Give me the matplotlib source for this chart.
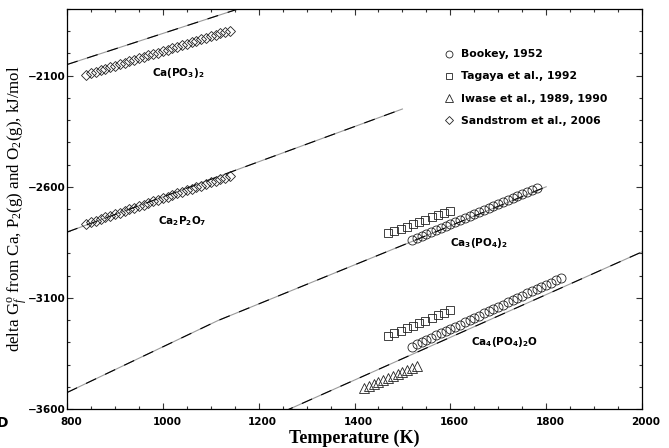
import matplotlib
matplotlib.use("Agg")
import matplotlib.pyplot as plt
from matplotlib.lines import Line2D
from matplotlib.ticker import MultipleLocator
import matplotlib.transforms as mtransforms

plt.rcParams['mathtext.fontset'] = 'custom'
plt.rcParams['mathtext.rm'] = 'Liberation Serif'
plt.rcParams['mathtext.it'] = 'Liberation Serif:italic'
plt.rcParams['mathtext.bf'] = 'DejaVu Sans:bold'

# ---- calculated lines (kJ/mol vs K) ----
calc1_T = [800, 1200]
calc1_G = [-2050, -1770]
calc2_T = [800, 1500]
calc2_G = [-2804, -2250]
calc3_T = [800, 1115, 1800]
calc3_G = [-3526, -3202, -2600]
calc4_T = [1250, 2000]
calc4_G = [-3614, -2893]

# ---- Sandstrom et al., 2006 (diamonds) ----
sand1_T = [840, 850, 860, 870, 880, 890, 900, 910, 920, 930, 940, 950, 960, 970, 980, 990,
           1000, 1010, 1020, 1030, 1040, 1050, 1060, 1070, 1080, 1090, 1100, 1110, 1120, 1130, 1140]
sand1_G = [-2095, -2088, -2082, -2075, -2069, -2062, -2055, -2049, -2042, -2036, -2029, -2022,
           -2016, -2009, -2003, -1996, -1989, -1983, -1976, -1970, -1963, -1956, -1950, -1943,
           -1937, -1930, -1923, -1917, -1910, -1904, -1897]
sand2_T = [840, 850, 860, 870, 880, 890, 900, 910, 920, 930, 940, 950, 960, 970, 980, 990,
           1000, 1010, 1020, 1030, 1040, 1050, 1060, 1070, 1080, 1090, 1100, 1110, 1120, 1130, 1140]
sand2_G = [-2766, -2759, -2752, -2745, -2737, -2730, -2723, -2716, -2709, -2702, -2695, -2688,
           -2680, -2673, -2666, -2659, -2652, -2645, -2638, -2630, -2623, -2616, -2609, -2602,
           -2595, -2588, -2580, -2573, -2566, -2559, -2552]

# ---- Bookey, 1952 (circles) ----
book3_T = [1520, 1530, 1540, 1550, 1560, 1570, 1580, 1590, 1600, 1610, 1620, 1630, 1640, 1650,
           1660, 1670, 1680, 1690, 1700, 1710, 1720, 1730, 1740, 1750, 1760, 1770, 1780]
book3_G = [-2839, -2830, -2821, -2812, -2803, -2794, -2785, -2776, -2767, -2758, -2749, -2740,
           -2731, -2722, -2713, -2704, -2695, -2686, -2677, -2668, -2660, -2651, -2642, -2633,
           -2624, -2615, -2606]
book4_T = [1520, 1530, 1540, 1550, 1560, 1570, 1580, 1590, 1600, 1610, 1620, 1630, 1640, 1650,
           1660, 1670, 1680, 1690, 1700, 1710, 1720, 1730, 1740, 1750, 1760, 1770, 1780, 1790,
           1800, 1810, 1820, 1830]
book4_G = [-3319, -3309, -3299, -3289, -3279, -3269, -3259, -3249, -3240, -3230, -3220, -3210,
           -3200, -3190, -3180, -3170, -3160, -3150, -3140, -3130, -3120, -3110, -3100, -3090,
           -3080, -3071, -3061, -3051, -3041, -3031, -3021, -3011]

# ---- Tagaya et al., 1992 (squares) ----
tag3_T = [1470, 1483, 1496, 1509, 1522, 1535, 1548, 1561, 1574, 1587, 1600]
tag3_G = [-2809, -2799, -2789, -2779, -2768, -2758, -2748, -2738, -2727, -2717, -2707]
tag4_T = [1470, 1483, 1496, 1509, 1522, 1535, 1548, 1561, 1574, 1587, 1600]
tag4_G = [-3271, -3260, -3248, -3237, -3225, -3214, -3202, -3191, -3179, -3168, -3156]

# ---- Iwase et al., 1989, 1990 (triangles) ----
iwa_T = [1420, 1430, 1440, 1450, 1460, 1470, 1480, 1490, 1500, 1510, 1520, 1530]
iwa_G = [-3507, -3498, -3489, -3480, -3471, -3462, -3453, -3444, -3435, -3426, -3417, -3408]

# ---- labels ----
species_labels = [r"Ca(PO$_{\mathbf{3}}$)$_{\mathbf{2}}$", r"Ca$_{\mathbf{2}}$P$_{\mathbf{2}}$O$_{\mathbf{7}}$",
                  r"Ca$_{\mathbf{3}}$(PO$_{\mathbf{4}}$)$_{\mathbf{2}}$", r"Ca$_{\mathbf{4}}$(PO$_{\mathbf{4}}$)$_{\mathbf{2}}$O"]
species_T = [1032, 1040, 1660, 1712]
species_G = [-2086, -2753, -2852, -3298]
legend_labels = ["Bookey, 1952", "Tagaya et al., 1992", "Iwase et al., 1989, 1990", "Sandstrom et al., 2006"]
xticks = [800, 1000, 1200, 1400, 1600, 1800, 2000]
yticks = [-3600, -3100, -2600, -2100]

fig = plt.figure(figsize=(6.69, 4.48), dpi=100)
W, H = 669, 448
ax = fig.add_axes([67 / W, 1 - 409 / H, 575 / W, 400 / H])

for T, G in [(calc1_T, calc1_G), (calc2_T, calc2_G), (calc3_T, calc3_G), (calc4_T, calc4_G)]:
    ax.plot(T, G, color='#9a9a9a', lw=0.8, zorder=2)
    ax.plot(T, G, color='black', lw=0.8, dashes=(10, 9), zorder=2)

mk = dict(linestyle='none', markerfacecolor='none', markeredgecolor='#222222', markeredgewidth=0.6, zorder=3)
ax.plot(sand1_T, sand1_G, marker='D', markersize=5.6, **mk)
ax.plot(sand2_T, sand2_G, marker='D', markersize=5.6, **mk)
ax.plot(book3_T, book3_G, marker='o', markersize=6.5, **mk)
ax.plot(book4_T, book4_G, marker='o', markersize=6.5, **mk)
ax.plot(tag3_T, tag3_G, marker='s', markersize=5.8, **mk)
ax.plot(tag4_T, tag4_G, marker='s', markersize=5.8, **mk)
ax.plot(iwa_T, iwa_G, marker='^', markersize=7.0, **mk)

for lab, T, G in zip(species_labels, species_T, species_G):
    ax.text(T, G, lab, ha='center', va='center', fontsize=7.5, fontweight='bold',
            family='DejaVu Sans')

handles = [Line2D([], [], linestyle='none', marker=m, markersize=s, markerfacecolor='none',
                  markeredgecolor='#222222', markeredgewidth=0.6)
           for m, s in [('o', 5.0), ('s', 4.5), ('^', 6.0), ('D', 4.3)]]
ax.legend(handles, legend_labels, loc='upper left', bbox_to_anchor=(0.648, 0.91),
          frameon=False, handlelength=0.9, handletextpad=0.7, labelspacing=1.12,
          borderaxespad=0, prop={'family': 'DejaVu Sans', 'weight': 'bold', 'size': 7.8})

ax.set_xlim(800, 2000)
ax.set_ylim(-3600, -1800)
ax.set_xticks(xticks)
ax.set_yticks(yticks)
ax.xaxis.set_minor_locator(MultipleLocator(50))
ax.yaxis.set_minor_locator(MultipleLocator(100))
ax.tick_params(which='both', direction='in', top=True, right=True, width=0.8, color='#333333')
ax.tick_params(which='major', length=4.5)
ax.tick_params(which='minor', length=2.5)
ax.tick_params(axis='y', which='major', pad=1)
ax.tick_params(axis='x', which='major', pad=6)
for lab in ax.get_xticklabels() + ax.get_yticklabels():
    lab.set_fontfamily('DejaVu Sans')
    lab.set_fontweight('bold')
    lab.set_fontsize(7.5)
off = mtransforms.ScaledTranslation(4 / 100, 0, fig.dpi_scale_trans)
for lab in ax.get_xticklabels():
    lab.set_transform(lab.get_transform() + off)
for sp in ax.spines.values():
    sp.set_linewidth(0.9)

ax.set_xlabel("Temperature (K)", family='Liberation Serif', fontweight='bold', fontsize=13, labelpad=2)
ax.set_ylabel(r"delta G$_{\mathit{f}}^{\mathrm{o}}$ from Ca, P$_2$(g) and O$_2$(g), kJ/mol",
              family='Liberation Serif', fontsize=12.2)
ax.yaxis.set_label_coords(-0.064, 0.5)

fig.text(-3 / W, 1 - 423 / H, "D", family='DejaVu Sans', fontweight='bold', fontsize=10,
         ha='left', va='center')

fig.savefig("out.png", dpi=100)
